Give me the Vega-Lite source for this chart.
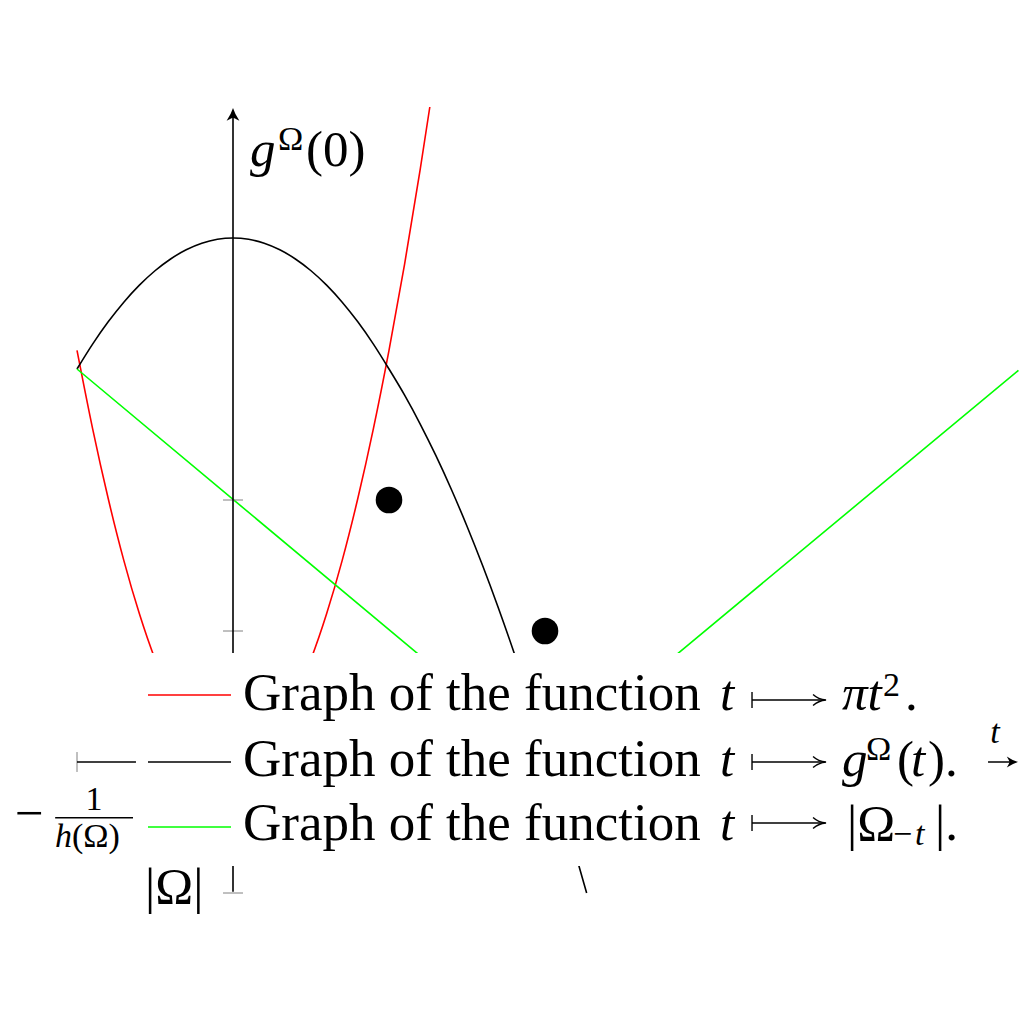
{
  "$schema": "https://vega.github.io/schema/vega-lite/v6.json",
  "width": 1024,
  "height": 1024,
  "padding": 0,
  "autosize": {"type": "none"},
  "background": "white",
  "config": {"view": {"stroke": null}},
  "encoding": {
    "x": {"field": "x", "type": "quantitative", "scale": {"domain": [-1.4936, 5.0705], "nice": false, "zero": false}, "axis": null},
    "y": {"field": "y", "type": "quantitative", "scale": {"domain": [-2, 5.8168], "nice": false, "zero": false}, "axis": null}
  },
  "layer": [
    {
      "data": {"values": [
        {"x": -1.0, "y": 3.142}, {"x": -0.9, "y": 2.545}, {"x": -0.8, "y": 2.011}, {"x": -0.7, "y": 1.539},
        {"x": -0.6, "y": 1.131}, {"x": -0.5, "y": 0.785}, {"x": -0.4, "y": 0.503}, {"x": -0.3, "y": 0.283},
        {"x": -0.2, "y": 0.126}, {"x": -0.1, "y": 0.031}, {"x": 0.0, "y": 0.0}, {"x": 0.1, "y": 0.031},
        {"x": 0.2, "y": 0.126}, {"x": 0.3, "y": 0.283}, {"x": 0.4, "y": 0.503}, {"x": 0.5, "y": 0.785},
        {"x": 0.6, "y": 1.131}, {"x": 0.7, "y": 1.539}, {"x": 0.8, "y": 2.011}, {"x": 0.9, "y": 2.545},
        {"x": 1.0, "y": 3.142}, {"x": 1.1, "y": 3.801}, {"x": 1.2, "y": 4.524}, {"x": 1.2616, "y": 5.0}
      ]},
      "mark": {"type": "line", "color": "#ff0000", "strokeWidth": 1.6, "interpolate": "monotone"}
    },
    {
      "data": {"values": [
        {"x": -1.0, "y": 3.0}, {"x": -0.9, "y": 3.19}, {"x": -0.8, "y": 3.36}, {"x": -0.7, "y": 3.51},
        {"x": -0.6, "y": 3.64}, {"x": -0.5, "y": 3.75}, {"x": -0.4, "y": 3.84}, {"x": -0.3, "y": 3.91},
        {"x": -0.2, "y": 3.96}, {"x": -0.1, "y": 3.99}, {"x": 0.0, "y": 4.0}, {"x": 0.1, "y": 3.99},
        {"x": 0.2, "y": 3.96}, {"x": 0.3, "y": 3.91}, {"x": 0.4, "y": 3.84}, {"x": 0.5, "y": 3.75},
        {"x": 0.6, "y": 3.64}, {"x": 0.7, "y": 3.51}, {"x": 0.8, "y": 3.36}, {"x": 0.9, "y": 3.19},
        {"x": 1.0, "y": 3.0}, {"x": 1.1, "y": 2.8}, {"x": 1.2, "y": 2.58}, {"x": 1.3, "y": 2.34},
        {"x": 1.4, "y": 2.08}, {"x": 1.5, "y": 1.8}, {"x": 1.6, "y": 1.5}, {"x": 1.7, "y": 1.18},
        {"x": 1.8, "y": 0.84}, {"x": 1.9, "y": 0.48}, {"x": 2.0, "y": 0.1}, {"x": 2.1, "y": -0.3},
        {"x": 2.2, "y": -0.72}, {"x": 2.25, "y": -0.93}, {"x": 2.267, "y": -1.0}
      ]},
      "mark": {"type": "line", "color": "#000000", "strokeWidth": 1.6, "interpolate": "monotone"}
    },
    {
      "data": {"values": [{"x": -1.0, "y": 3.0}, {"x": 2.015, "y": 0.0}, {"x": 5.035, "y": 2.99}]},
      "mark": {"type": "line", "color": "#00ff00", "strokeWidth": 1.6}
    },
    {
      "data": {"values": [{"x": -0.064, "x2": 0.064, "y": 1}, {"x": -0.064, "x2": 0.064, "y": 2}, {"x": -0.064, "x2": 0.064, "y": -1}]},
      "mark": {"type": "rule", "color": "#808080", "strokeWidth": 1},
      "encoding": {"x2": {"field": "x2"}}
    },
    {
      "data": {"values": [{"x": -1, "y": 0.076, "y2": -0.076}]},
      "mark": {"type": "rule", "color": "#808080", "strokeWidth": 1},
      "encoding": {"y2": {"field": "y2"}}
    },
    {
      "data": {"values": [{"x": 0, "y": -0.99, "y2": 4.95}]},
      "mark": {"type": "rule", "color": "black", "strokeWidth": 1.6},
      "encoding": {"y2": {"field": "y2"}}
    },
    {
      "data": {"values": [{"x": -1, "x2": 4.99, "y": 0}]},
      "mark": {"type": "rule", "color": "black", "strokeWidth": 1.6},
      "encoding": {"x2": {"field": "x2"}}
    },
    {
      "data": {"values": [{"x": 0, "y": 4.931}]},
      "mark": {"type": "point", "filled": true, "color": "black", "opacity": 1, "size": 256,
               "shape": "M0,-1 Q0.25,-0.2 0.8,0.6 Q0.1,0.2 0,0.2 Q-0.1,0.2 -0.8,0.6 Q-0.25,-0.2 0,-1 Z"}
    },
    {
      "data": {"values": [{"x": 4.987, "y": 0}]},
      "mark": {"type": "point", "filled": true, "color": "black", "opacity": 1, "size": 196,
               "shape": "M1,0 Q0.2,0.25 -0.6,0.8 Q-0.2,0.1 -0.2,0 Q-0.2,-0.1 -0.6,-0.8 Q0.2,-0.25 1,0 Z"}
    },
    {
      "data": {"values": [{"x": 1, "y": 2}, {"x": 2, "y": 1}]},
      "mark": {"type": "circle", "color": "black", "opacity": 1, "size": 707}
    },
    {
      "data": {"values": [{"x": -0.622, "x2": 4.84, "y": 0.832, "y2": -0.794}]},
      "mark": {"type": "rect", "fill": "white", "stroke": null},
      "encoding": {"x2": {"field": "x2"}, "y2": {"field": "y2"}}
    },
    {
      "data": {"values": [
        {"x": -0.545, "x2": -0.0128, "y": 0.511, "c": "#ff0000"},
        {"x": -0.545, "x2": -0.0128, "y": 0.0, "c": "#000000"},
        {"x": -0.545, "x2": -0.0128, "y": -0.496, "c": "#00ff00"}
      ]},
      "mark": {"type": "rule", "strokeWidth": 1.6},
      "encoding": {"x2": {"field": "x2"}, "color": {"field": "c", "type": "nominal", "scale": null}}
    },
    {
      "data": {"values": [
        {"x": -1.14, "x2": -0.641, "y": -0.425},
        {"x": 3.327, "x2": 3.79, "y": 0.473},
        {"x": 3.327, "x2": 3.79, "y": 0.0},
        {"x": 3.327, "x2": 3.79, "y": -0.466}
      ]},
      "mark": {"type": "rule", "strokeWidth": 1.4, "color": "black"},
      "encoding": {"x2": {"field": "x2"}}
    },
    {
      "data": {"values": [
        {"x": 3.327, "y": 0.534, "y2": 0.412},
        {"x": 3.327, "y": 0.061, "y2": -0.061},
        {"x": 3.327, "y": -0.405, "y2": -0.527}
      ]},
      "mark": {"type": "rule", "strokeWidth": 1.4, "color": "black"},
      "encoding": {"y2": {"field": "y2"}}
    },
    {
      "data": {"values": [
        {"x": 3.76, "y": 0.473},
        {"x": 3.76, "y": 0.0},
        {"x": 3.76, "y": -0.466}
      ]},
      "mark": {"type": "point", "filled": false, "color": "black", "opacity": 1, "strokeWidth": 1.4, "size": 169,
               "shape": "M-1,-0.85 Q-0.2,-0.1 1,0 Q-0.2,0.1 -1,0.85"}
    },
    {
      "data": {"values": [
        {"x": 0.064, "y": 0.397, "s": "Graph of the function"},
        {"x": 0.064, "y": -0.107, "s": "Graph of the function"},
        {"x": 0.064, "y": -0.595, "s": "Graph of the function"}
      ]},
      "mark": {"type": "text", "font": "Liberation Serif", "fontSize": 53, "align": "left", "baseline": "alphabetic", "color": "black"},
      "encoding": {"text": {"field": "s"}}
    },
    {
      "data": {"values": [
        {"x": 4.308, "y": 0.397, "s": "."},
        {"x": 4.256, "y": -0.107, "s": "("},
        {"x": 4.455, "y": -0.107, "s": ")."},
        {"x": 3.936, "y": -0.595, "s": "|Ω"},
        {"x": 4.5, "y": -0.595, "s": "|."},
        {"x": 0.468, "y": 4.55, "s": "(0)"},
        {"x": -0.564, "y": -1.076, "s": "|Ω|"},
        {"x": -1.397, "y": -0.519, "s": "−"}
      ]},
      "mark": {"type": "text", "font": "Liberation Serif", "fontSize": 51, "align": "left", "baseline": "alphabetic", "color": "black"},
      "encoding": {"text": {"field": "s"}}
    },
    {
      "data": {"values": [
        {"x": 3.122, "y": 0.397, "s": "t"},
        {"x": 3.122, "y": -0.107, "s": "t"},
        {"x": 3.122, "y": -0.595, "s": "t"},
        {"x": 3.904, "y": 0.397, "s": "πt"},
        {"x": 3.904, "y": -0.107, "s": "g"},
        {"x": 4.346, "y": -0.107, "s": "t"},
        {"x": 0.109, "y": 4.55, "s": "g"}
      ]},
      "mark": {"type": "text", "font": "Liberation Serif", "fontStyle": "italic", "fontSize": 51, "align": "left", "baseline": "alphabetic", "color": "black"},
      "encoding": {"text": {"field": "s"}}
    },
    {
      "data": {"values": [
        {"x": 4.167, "y": 0.504, "s": "2"},
        {"x": 4.058, "y": 0.015, "s": "Ω"},
        {"x": 0.288, "y": 4.672, "s": "Ω"},
        {"x": 4.231, "y": -0.634, "s": "−"},
        {"x": -1.032, "y": -0.649, "s": "(Ω)"}
      ]},
      "mark": {"type": "text", "font": "Liberation Serif", "fontSize": 34, "align": "left", "baseline": "alphabetic", "color": "black"},
      "encoding": {"text": {"field": "s"}}
    },
    {
      "data": {"values": [
        {"x": -0.891, "y": -0.366, "s": "1"}
      ]},
      "mark": {"type": "text", "font": "Liberation Serif", "fontSize": 34, "align": "center", "baseline": "alphabetic", "color": "black"},
      "encoding": {"text": {"field": "s"}}
    },
    {
      "data": {"values": [
        {"x": 4.372, "y": -0.634, "s": "t"},
        {"x": -1.141, "y": -0.649, "s": "h"}
      ]},
      "mark": {"type": "text", "font": "Liberation Serif", "fontStyle": "italic", "fontSize": 34, "align": "left", "baseline": "alphabetic", "color": "black"},
      "encoding": {"text": {"field": "s"}}
    },
    {
      "data": {"values": [
        {"x": 4.885, "y": 0.145, "s": "t"}
      ]},
      "mark": {"type": "text", "font": "Liberation Serif", "fontStyle": "italic", "fontSize": 34, "align": "center", "baseline": "alphabetic", "color": "black"},
      "encoding": {"text": {"field": "s"}}
    }
  ]
}
